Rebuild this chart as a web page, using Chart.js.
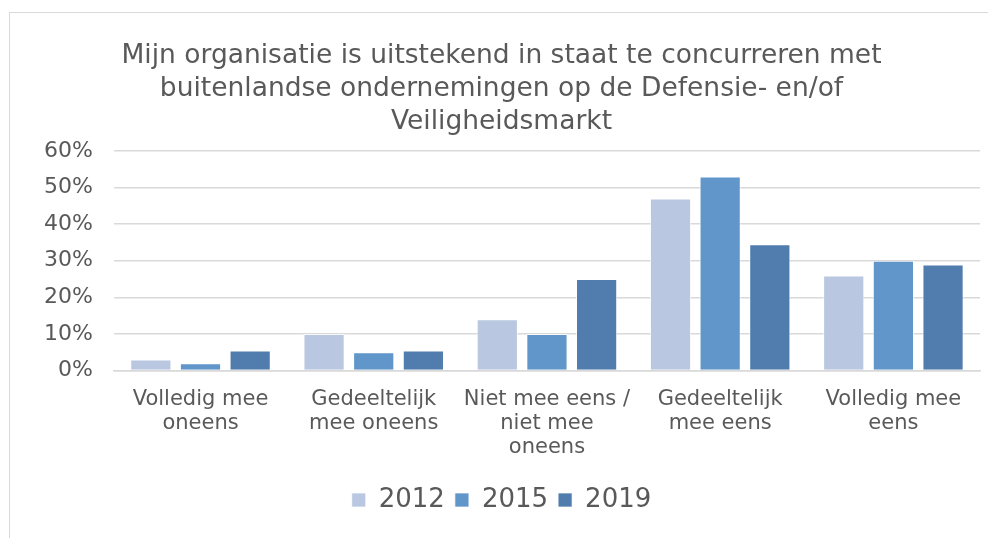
<!DOCTYPE html>
<html>
<head>
<meta charset="utf-8">
<script src="https://cdn.jsdelivr.net/npm/chart.js@4"></script>
<style>
  html, body { margin: 0; padding: 0; background: #fff; }
  #wrap { position: relative; width: 988px; height: 538px; }
  #frame { position: absolute; left: 9px; top: 12px; right: 0; bottom: 0;
           border-top: 1px solid #d9d9d9; border-left: 1px solid #d9d9d9; }
  canvas { position: absolute; left: 0; top: 0; }
</style>
</head>
<body>
<div id="wrap">
  <div id="frame"></div>
  <canvas id="chart" width="988" height="538"></canvas>
</div>
<script>
// categories (multi-line labels as in the original)
const categories = [
    ['Volledig mee', 'oneens'],
    ['Gedeeltelijk', 'mee oneens'],
    ['Niet mee eens /', 'niet mee', 'oneens'],
    ['Gedeeltelijk', 'mee eens'],
    ['Volledig mee', 'eens']
];
const years = ['2012', '2015', '2019'];
const values2012 = [3, 10, 14, 47, 26];
const values2015 = [2, 5, 10, 53, 30];
const values2019 = [5.5, 5.5, 25, 34.5, 29];
const yTicks = [0, 10, 20, 30, 40, 50, 60];

const colors = ['#b9c7e1', '#6096c9', '#517dae'];
const textColor = '#595959';
const font = 'DejaVu Sans, Verdana, sans-serif';

const ctx = document.getElementById('chart').getContext('2d');
const chart = new Chart(ctx, {
    type: 'bar',
    data: {
        labels: categories,
        datasets: [values2012, values2015, values2019].map((vals, i) => ({
            label: years[i],
            data: vals,
            backgroundColor: colors[i],
            borderColor: 'rgba(255,255,255,0.7)',
            borderWidth: 1,
            categoryPercentage: 0.86,
            barPercentage: 0.83
        }))
    },
    options: {
        responsive: false,
        animation: false,
        layout: { padding: { left: 23, right: 8, top: 26, bottom: 15 } },
        plugins: {
            title: {
                display: true,
                text: [
                    'Mijn organisatie is uitstekend in staat te concurreren met',
                    'buitenlandse ondernemingen op de Defensie- en/of',
                    'Veiligheidsmarkt'
                ],
                color: textColor,
                font: { family: font, size: 26.5, weight: 'normal', lineHeight: 1.245 },
                padding: { top: 14, bottom: 12 }
            },
            legend: {
                position: 'bottom',
                labels: {
                    color: textColor,
                    font: { family: font, size: 26 },
                    boxWidth: 14,
                    boxHeight: 14,
                    padding: 10
                }
            },
            tooltip: { enabled: false }
        },
        scales: {
            x: {
                grid: { display: false, drawTicks: false },
                border: { color: '#d9d9d9', width: 1.5 },
                ticks: {
                    color: textColor,
                    font: { family: font, size: 21, lineHeight: 1.15 },
                    padding: 17,
                    maxRotation: 0,
                    autoSkip: false
                }
            },
            y: {
                min: 0,
                max: 60,
                afterBuildTicks: axis => { axis.ticks = yTicks.map(v => ({ value: v })); },
                grid: { color: '#d9d9d9', lineWidth: 1.5, drawTicks: false },
                border: { display: false },
                ticks: {
                    color: textColor,
                    font: { family: font, size: 22 },
                    padding: 21,
                    callback: v => v + '%'
                }
            }
        }
    }
});
</script>
</body>
</html>
